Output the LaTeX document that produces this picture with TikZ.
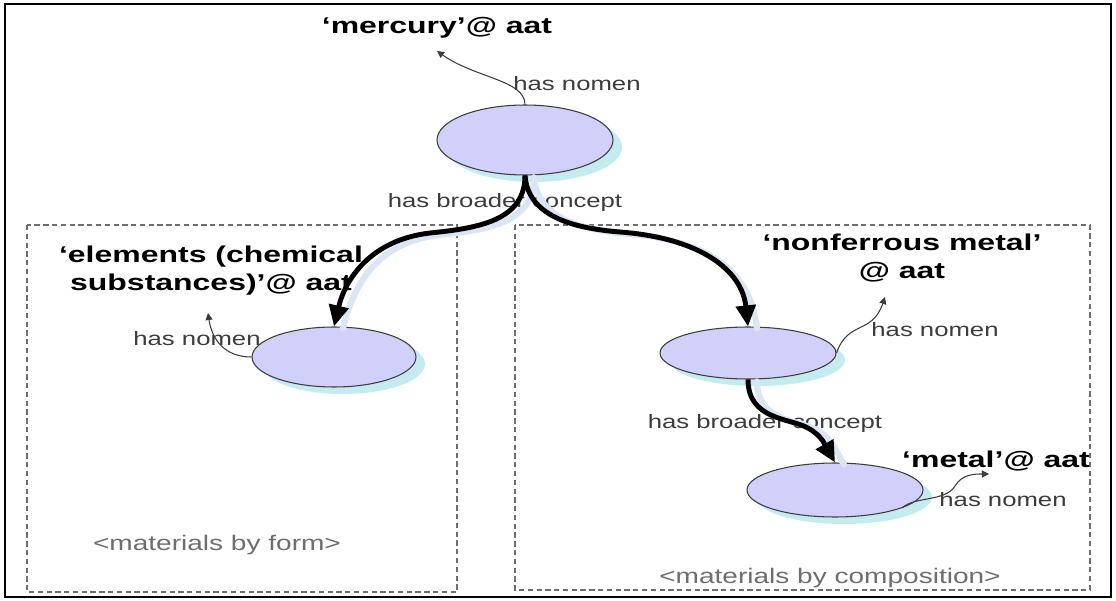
\documentclass[tikz,border=0pt]{standalone}
\usepackage{fontspec}
\setmainfont{Liberation Sans}[FakeStretch=1.33]
\newfontfamily\boldlab{Liberation Sans}[FakeStretch=1.4]
\usetikzlibrary{shapes.geometric,arrows.meta,calc}
\definecolor{ellfill}{RGB}{208,208,250}
\definecolor{ellshadow}{RGB}{196,236,238}
\definecolor{arrshadow}{RGB}{218,230,246}
\definecolor{labgray}{RGB}{60,60,60}
\definecolor{boxgray}{RGB}{110,110,110}
\tikzset{
  concept/.style={ellipse, draw=labgray, line width=0.6pt, fill=ellfill, inner sep=0pt},
  eshadow/.style={ellipse, fill=ellshadow, inner sep=0pt},
  relabel/.style={font=\fontsize{11}{13}\selectfont, text=labgray, inner sep=0pt},
  termlabel/.style={font=\boldlab\bfseries\fontsize{13}{16}\selectfont, inner sep=0pt, align=center},
  grouplabel/.style={font=\fontsize{12}{14}\selectfont, text=boxgray, inner sep=0pt},
  groupbox/.style={draw=boxgray, line width=0.6pt, dash pattern=on 3pt off 2pt},
  broader/.style={line width=2.8pt, -{Triangle[length=12pt,width=11pt]}},
  broadshadow/.style={line width=3.5pt, arrshadow, line cap=round, transform canvas={xshift=0.18cm,yshift=-0.04cm}},
  nomen/.style={draw=labgray, line width=0.6pt, -{Triangle[length=4pt,width=4pt]}}
}
\begin{document}
\begin{tikzpicture}[x=0.02cm,y=-0.02cm]
\useasboundingbox (0,0) rectangle (1116,601);
\fill[white] (0,0) rectangle (1116,601);
\draw[line width=1.5pt] (5,4) rectangle (1111,597);
% group boxes
\draw[groupbox] (27,225) rectangle (457,592);
\draw[groupbox] (515,225) rectangle (1090,590);
\node[grouplabel] (gform) at (217,545) {<materials by form>};
\node[grouplabel] (gcomp) at (830,578) {<materials by composition>};
% ellipse shadows
\node[eshadow, minimum width=3.52cm, minimum height=1.4cm] (topS) at (534,147) {};
\node[eshadow, minimum width=3.28cm, minimum height=1.2cm] (leftS) at (343,364) {};
\node[eshadow, minimum width=3.52cm, minimum height=1.04cm] (nfS) at (757,360) {};
\node[eshadow, minimum width=3.52cm, minimum height=1.08cm] (metS) at (844,497) {};
% ellipses
\node[concept, minimum width=3.52cm, minimum height=1.4cm] (top) at (525,140) {};
\node[concept, minimum width=3.28cm, minimum height=1.2cm] (left) at (334,357) {};
\node[concept, minimum width=3.52cm, minimum height=1.04cm] (nf) at (748,353) {};
\node[concept, minimum width=3.52cm, minimum height=1.08cm] (met) at (835,490) {};
% term labels
\node[termlabel] (tmerc) at (437,28) {‘mercury’@ aat};
\node[termlabel] (telem) at (211,271) {‘elements (chemical\\substances)’@ aat};
\node[termlabel] (tnf) at (902,258) {‘nonferrous metal’\\@ aat};
\node[termlabel] (tmet) at (996,461) {‘metal’@ aat};
% relation labels
\node[relabel] (ln1) at (577,84) {has nomen};
\node[relabel] (ln2) at (197,339) {has nomen};
\node[relabel] (ln3) at (935,330) {has nomen};
\node[relabel] (ln4) at (1003,500) {has nomen};
\node[relabel] (lb1) at (505,203) {has broader concept};
\node[relabel] (lb2) at (765,424) {has broader concept};
% nomen tips
\coordinate (n1tip) at (437,51);
\coordinate (n2tip) at (208,313);
\coordinate (n3tip) at (885,297);
\coordinate (n4tip) at (989,474);
\draw[nomen] (top.north) .. controls (525,80) and (475,78) .. (n1tip);
\draw[nomen] (left.west) .. controls (225,357) and (212,340) .. (n2tip);
\draw[nomen] (nf.east) .. controls (848,320) and (872,335) .. (n3tip);
\draw[nomen] (met.-15) .. controls (915,496) and (945,502) .. (955,486) .. controls (962,474) and (975,474) .. (n4tip);
% broader arrows shadows
\draw[broadshadow] (top.south) .. controls (525,220) and (480,228) .. (430,233) .. controls (370,240) and (345,280) .. (left.north);
\draw[broadshadow] (top.south) .. controls (528,215) and (570,228) .. (620,232) .. controls (700,238) and (742,270) .. (nf.north);
\draw[broadshadow] (nf.south) .. controls (748,420) and (790,418) .. (808,428) .. controls (822,436) and (825,445) .. (met.north);
% broader arrows
\draw[broader] (top.south) .. controls (525,220) and (480,228) .. (430,233) .. controls (370,240) and (345,280) .. (left.north);
\draw[broader] (top.south) .. controls (528,215) and (570,228) .. (620,232) .. controls (700,238) and (742,270) .. (nf.north);
\draw[broader] (nf.south) .. controls (748,420) and (790,418) .. (808,428) .. controls (822,436) and (825,445) .. (met.north);
\end{tikzpicture}
\end{document}
